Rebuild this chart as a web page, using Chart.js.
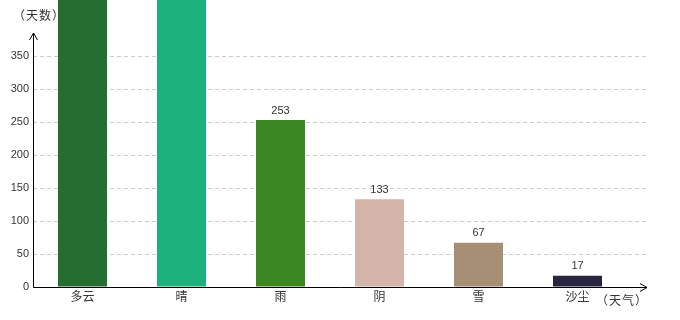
<!DOCTYPE html>
<html>
<head>
<meta charset="utf-8">
<script src="https://cdn.jsdelivr.net/npm/chart.js@4"></script>
<style>
  html, body { margin: 0; padding: 0; background: #fff; }
</style>
</head>
<body>
<canvas id="c" width="680" height="320"></canvas>
<script>
// data (the first two bars run off the top, so those are guesses)
const weather = ["多云", "晴", "雨", "阴", "雪", "沙尘"];
const days = [480, 450, 253, 133, 67, 17];
const barColors = ["#256e32", "#1cb07a", "#3b8823", "#d5b5a9", "#a78f75", "#27263e"];
const yTicks = [0, 50, 100, 150, 200, 250, 300, 350];
const yAxisName = "（天数）";
const xAxisName = "（天气）";

const cjk = '"Noto Sans CJK SC", "Noto Sans", sans-serif';
const latin = '"Liberation Sans", Arial, sans-serif';

// axis lines with arrow heads, value labels above bars, axis names
const decor = {
  id: "decor",
  beforeDatasetsDraw(chart) {
    const ctx = chart.ctx;
    ctx.save();
    ctx.fillStyle = "#333";
    ctx.font = "12px " + cjk;
    ctx.letterSpacing = "1px";
    ctx.textBaseline = "middle";
    ctx.textAlign = "left";
    ctx.fillText(yAxisName, 13, 15);
    ctx.restore();
  },
  afterDatasetsDraw(chart) {
    const ctx = chart.ctx;
    const meta = chart.getDatasetMeta(0);
    ctx.save();
    ctx.fillStyle = "#333";
    ctx.font = "11px " + latin;
    ctx.textAlign = "center";
    ctx.textBaseline = "bottom";
    meta.data.forEach((bar, i) => {
      if (bar.y < chart.chartArea.top + 14) return;
      ctx.fillText(String(days[i]), bar.x, bar.y - 4);
    });
    ctx.restore();
  },
  afterDraw(chart) {
    const ctx = chart.ctx;
    const xs = chart.scales.x, ys = chart.scales.y;
    const x0 = Math.round(xs.left) + 0.5;
    const y0 = Math.round(ys.getPixelForValue(0)) + 0.5;
    const yTop = ys.getPixelForValue(385);
    const xEnd = xs.right;
    ctx.save();
    ctx.strokeStyle = "#000";
    ctx.lineWidth = 1;
    ctx.beginPath();
    ctx.moveTo(x0, y0);
    ctx.lineTo(x0, yTop);
    ctx.moveTo(x0 - 4, yTop + 7);
    ctx.lineTo(x0, yTop);
    ctx.lineTo(x0 + 4, yTop + 7);
    ctx.moveTo(x0, y0);
    ctx.lineTo(xEnd, y0);
    ctx.moveTo(xEnd - 7, y0 - 4);
    ctx.lineTo(xEnd, y0);
    ctx.lineTo(xEnd - 7, y0 + 4);
    ctx.stroke();

    ctx.fillStyle = "#333";
    ctx.font = "12px " + cjk;
    ctx.letterSpacing = "1px";
    ctx.textAlign = "left";
    ctx.textBaseline = "middle";
    ctx.fillText(xAxisName, 596, 300);
    ctx.restore();
  },
};

new Chart(document.getElementById("c"), {
  type: "bar",
  data: {
    datasets: [
      {
        data: days.map((v, i) => ({ x: i, y: v })),
        backgroundColor: barColors,
        borderWidth: 0,
        categoryPercentage: 1,
        barPercentage: 0.495,
      },
    ],
  },
  options: {
    responsive: false,
    animation: false,
    layout: { padding: { top: 0, right: 33, bottom: 0, left: 0 } },
    plugins: { legend: { display: false }, tooltip: { enabled: false } },
    scales: {
      x: {
        type: "linear",
        min: -0.5,
        max: 5.702,
        offset: false,
        grid: { display: false, drawTicks: false },
        border: { display: false },
        afterBuildTicks: (s) => {
          s.ticks = weather.map((_, i) => ({ value: i }));
        },
        afterFit: (s) => {
          s.height = 33;
          s.paddingLeft = 0;
          s.paddingRight = 0;
        },
        ticks: {
          autoSkip: false,
          maxRotation: 0,
          padding: 2,
          color: "#333",
          font: { family: cjk, size: 12 },
          callback: (v) => weather[v],
        },
      },
      y: {
        min: 0,
        max: 435,
        grid: { color: "#cccccc", drawTicks: false },
        border: { display: false, dash: [4, 3] },
        afterBuildTicks: (s) => {
          s.ticks = yTicks.map((v) => ({ value: v }));
        },
        afterFit: (s) => {
          s.width = 33;
          s.paddingTop = 0;
          s.paddingBottom = 0;
        },
        ticks: {
          padding: 4,
          color: "#333",
          font: { family: latin, size: 11 },
        },
      },
    },
  },
  plugins: [decor],
});
</script>
</body>
</html>
